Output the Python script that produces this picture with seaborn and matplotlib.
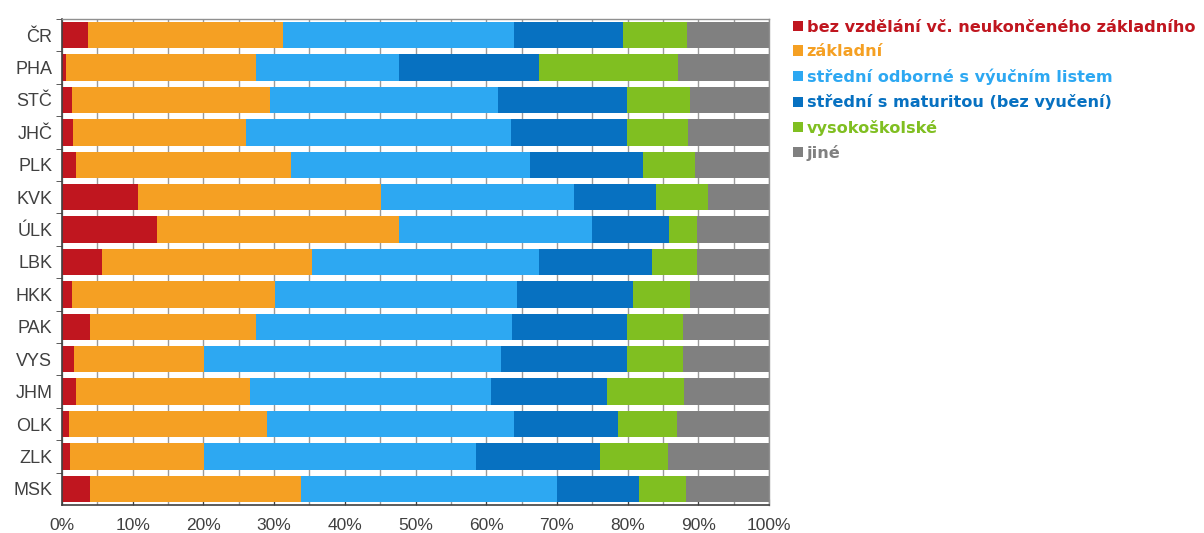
import numpy as np
import pandas as pd
import matplotlib
matplotlib.use('Agg')
import matplotlib.pyplot as plt
from matplotlib.patches import Patch
from matplotlib.ticker import MultipleLocator, PercentFormatter
import seaborn as sns

# regions (top to bottom)
regions = ['ČR', 'PHA', 'STČ', 'JHČ', 'PLK', 'KVK', 'ÚLK', 'LBK',
           'HKK', 'PAK', 'VYS', 'JHM', 'OLK', 'ZLK', 'MSK']

# shares in % for each education level
bez_vzdelani = [3.7, 0.6, 1.4, 1.6, 2.0, 10.7, 13.5, 5.7, 1.4, 4.0, 1.7, 2.0, 1.0, 1.1, 4.0]
zakladni = [27.6, 26.8, 28.0, 24.4, 30.4, 34.4, 34.2, 29.6, 28.7, 23.5, 18.4, 24.6, 28.0, 19.0, 29.8]
stredni_odborne = [32.6, 20.3, 32.3, 37.5, 33.8, 27.3, 27.3, 32.2, 34.2, 36.1, 42.0, 34.1, 34.9, 38.5, 36.2]
stredni_maturita = [15.5, 19.8, 18.2, 16.4, 16.0, 11.6, 10.8, 16.0, 16.5, 16.3, 17.8, 16.4, 14.7, 17.5, 11.6]
vysokoskolske = [9.0, 19.6, 8.9, 8.6, 7.3, 7.4, 4.0, 6.3, 8.0, 7.9, 7.9, 10.9, 8.4, 9.6, 6.7]
jine = [11.6, 12.9, 11.2, 11.5, 10.5, 8.6, 10.2, 10.2, 11.2, 12.2, 12.2, 12.0, 13.0, 14.3, 11.7]

labels = ['bez vzdělání vč. neukončeného základního', 'základní',
          'střední odborné s výučním listem', 'střední s maturitou (bez vyučení)',
          'vysokoškolské', 'jiné']
colors = ['#C0161F', '#F5A023', '#2DA8F2', '#0771C1', '#80BF21', '#808080']

df = pd.DataFrame({'region': regions})
series = [bez_vzdelani, zakladni, stredni_odborne, stredni_maturita, vysokoskolske, jine]
for lab, vals in zip(labels, series):
    df[lab] = vals
cum = df[labels].cumsum(axis=1)

plt.rcParams['font.family'] = ['Liberation Sans', 'DejaVu Sans']
fig = plt.figure(figsize=(12.04, 5.33), dpi=100)
ax = fig.add_axes([0.0515, 0.0525, 0.5872, 0.9119])

# stacked bars: draw the widest cumulative first
for lab, col in reversed(list(zip(labels, colors))):
    sns.barplot(x=cum[lab], y=df['region'], orient='h', color=col,
                saturation=1, width=0.82, ax=ax, zorder=2, linewidth=0)

ax.set_xlim(0, 100)
ax.set_ylim(len(regions) - 0.5, -0.5)
ax.xaxis.set_major_locator(MultipleLocator(10))
ax.xaxis.set_minor_locator(MultipleLocator(5))
ax.xaxis.set_major_formatter(PercentFormatter(decimals=0))
ax.grid(axis='x', which='both', color='#9a9a9a', linewidth=1, zorder=0)
ax.set_axisbelow(True)
ax.set_xlabel('')
ax.set_ylabel('')

# y ticks at category boundaries like the original
ax.set_yticks(np.arange(len(regions)) - 0.5, minor=True)
ax.tick_params(axis='y', which='major', length=0, labelsize=13, labelcolor='#404040', pad=7)
ax.tick_params(axis='y', which='minor', length=4, color='#404040')
ax.tick_params(axis='x', which='major', length=4, direction='in', color='#404040',
               labelsize=12.5, labelcolor='#404040', pad=9)
ax.tick_params(axis='x', which='minor', length=0)

for s in ['left', 'bottom']:
    ax.spines[s].set_color('#404040')
    ax.spines[s].set_linewidth(1.2)
for s in ['top', 'right']:
    ax.spines[s].set_color('#909090')
    ax.spines[s].set_linewidth(1)

handles = [Patch(facecolor=c, edgecolor='none') for c in colors]
leg = fig.legend(handles, labels, loc='upper left', bbox_to_anchor=(0.647, 0.99),
                 frameon=False, handlelength=0.6, handleheight=0.6, handletextpad=0.22,
                 labelspacing=0.58, labelcolor=colors,
                 prop={'family': 'DejaVu Sans', 'weight': 'bold', 'size': 11.6})

fig.savefig('out.png', dpi=100)
